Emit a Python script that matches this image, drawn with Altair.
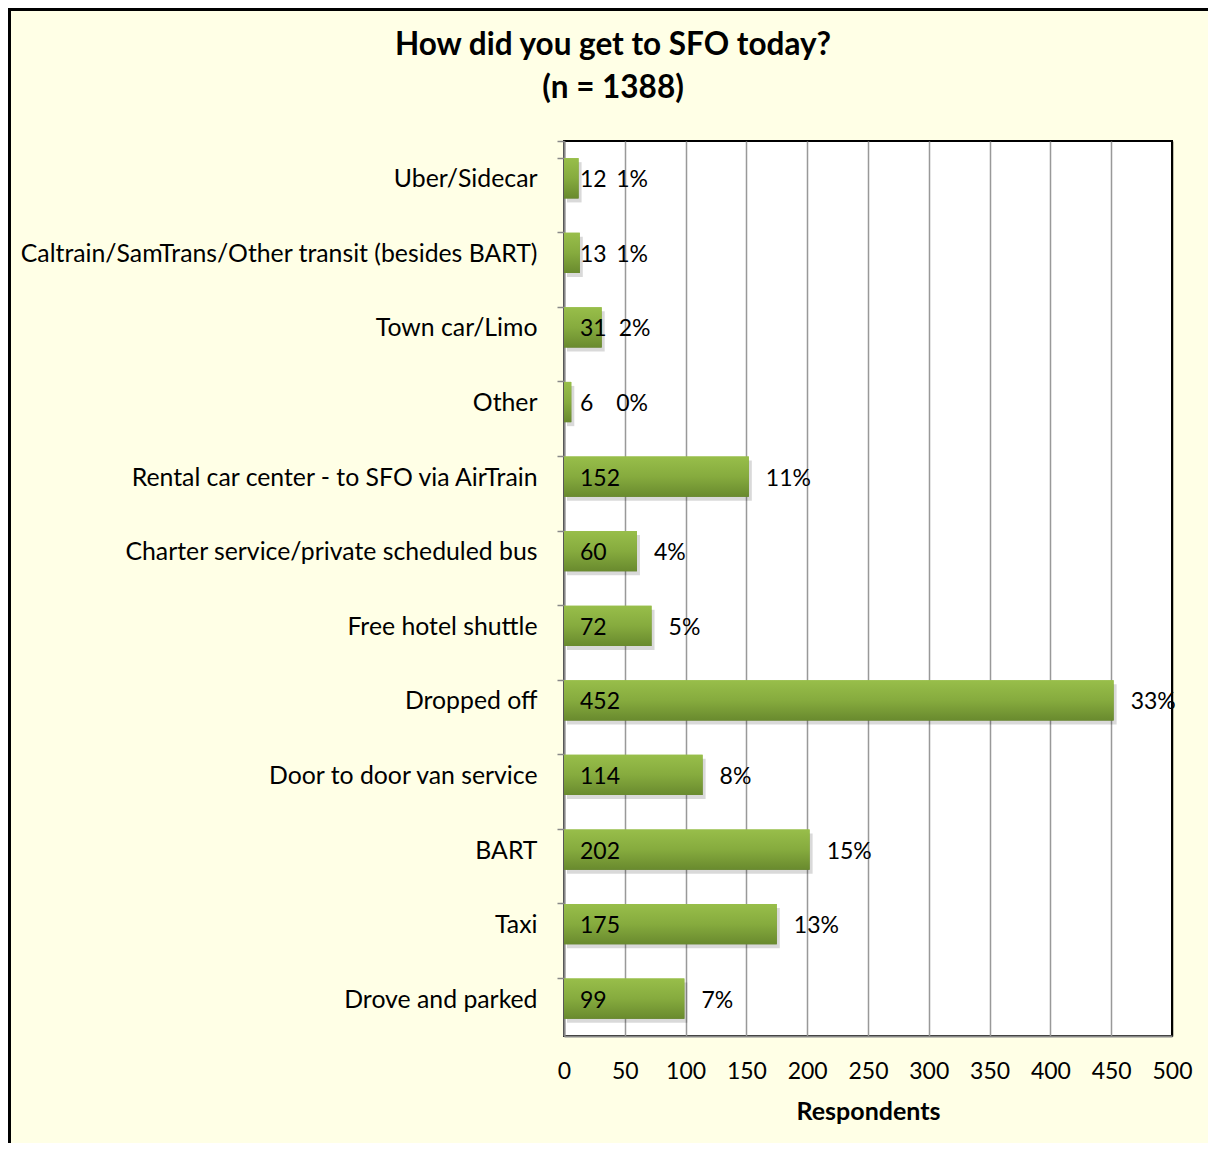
import altair as alt
import pandas as pd

categories = [
    "Uber/Sidecar",
    "Caltrain/SamTrans/Other transit (besides BART)",
    "Town car/Limo",
    "Other",
    "Rental car center - to SFO via AirTrain",
    "Charter service/private scheduled bus",
    "Free hotel shuttle",
    "Dropped off",
    "Door to door van service",
    "BART",
    "Taxi",
    "Drove and parked",
]
respondents = [12, 13, 31, 6, 152, 60, 72, 452, 114, 202, 175, 99]
total_n = 1388
x_ticks = [0, 50, 100, 150, 200, 250, 300, 350, 400, 450, 500]
title_lines = ["How did you get to SFO today?", f"(n = {total_n})"]

FONT = "Lato"
W, H = 608, 895

df = pd.DataFrame({"mode": categories, "value": respondents})

base = alt.Chart(df).transform_calculate(
    pct=f"format(datum.value / {total_n}, '.0%')",
    pct_x="max(datum.value, 29)",
)

y_enc = alt.Y(
    "mode:N",
    sort=categories,
    title=None,
    scale=alt.Scale(paddingInner=0.46, paddingOuter=0.23),
    axis=alt.Axis(
        grid=False,
        domainColor="#888888",
        domainWidth=2,
        tickColor="#888888",
        tickWidth=1.5,
        tickSize=7,
        bandPosition=0,
        tickExtra=True,
        labelFont=FONT,
        labelFontSize=24.8,
        labelColor="#000000",
        labelPadding=20,
        labelOffset=2,
        labelLimit=700,
    ),
)
x_enc = alt.X(
    "value:Q",
    scale=alt.Scale(domain=[0, 500], nice=False),
    axis=alt.Axis(
        values=x_ticks,
        title="Respondents",
        grid=True,
        gridColor={"condition": {"test": "datum.value === 500", "value": "#000000"}, "value": "#999999"},
        gridWidth=1.5,
        ticks=False,
        tickSize=0,
        domainColor="#888888",
        domainWidth=2,
        labelFont=FONT,
        labelFontSize=23,
        labelColor="#000000",
        labelPadding=24,
        labelFlush=False,
        titleFont=FONT,
        titleFontSize=25,
        titleFontWeight="bold",
        titleColor="#000000",
        titlePadding=16,
    ),
)

shadow = base.mark_bar(color="#000000", opacity=0.15, xOffset=3, yOffset=4).encode(
    x="value:Q", y=alt.Y("mode:N", sort=categories)
)

bars = base.mark_bar(
    color={
        "gradient": "linear",
        "x1": 0, "y1": 0, "x2": 0, "y2": 1,
        "stops": [
            {"offset": 0, "color": "#98BE4A"},
            {"offset": 0.5, "color": "#86AB3E"},
            {"offset": 1, "color": "#698A2E"},
        ],
    }
).encode(x=x_enc, y=y_enc)

value_text = base.mark_text(
    align="left", baseline="middle", dx=16, dy=2, font=FONT, fontSize=23, color="#000000"
).encode(x=alt.datum(0), y=alt.Y("mode:N", sort=categories), text="value:Q")

pct_text = base.mark_text(
    align="left", baseline="middle", dx=17, dy=2, font=FONT, fontSize=23, color="#000000"
).encode(x="pct_x:Q", y=alt.Y("mode:N", sort=categories), text="pct:N")

frame = alt.Chart(pd.DataFrame({"f": [0]})).mark_rect(
    fillOpacity=0, stroke="#000000", strokeWidth=3
).encode(
    x=alt.value(-554.5), x2=alt.value(W + 200), y=alt.value(-131.5), y2=alt.value(H + 300)
)

chart = (
    alt.layer(bars, shadow, bars, value_text, pct_text, frame)
    .properties(
        width=W,
        height=H,
        autosize=alt.AutoSizeParams(type="none"),
        padding={"left": 556, "top": 133, "right": 36, "bottom": 107},
        background="#FFFFE6",
        title=alt.TitleParams(
            title_lines,
            font=FONT,
            fontSize=31.5,
            fontWeight="bold",
            color="#000000",
            anchor="middle",
            frame="group",
            dx=-255,
            offset=-96,
            lineHeight=43,
        ),
    )
    .configure_view(stroke="#000000", strokeWidth=2, fill="#FFFFFF")
)

chart.save("out.html", embed_options={"renderer": "svg", "actions": False})
